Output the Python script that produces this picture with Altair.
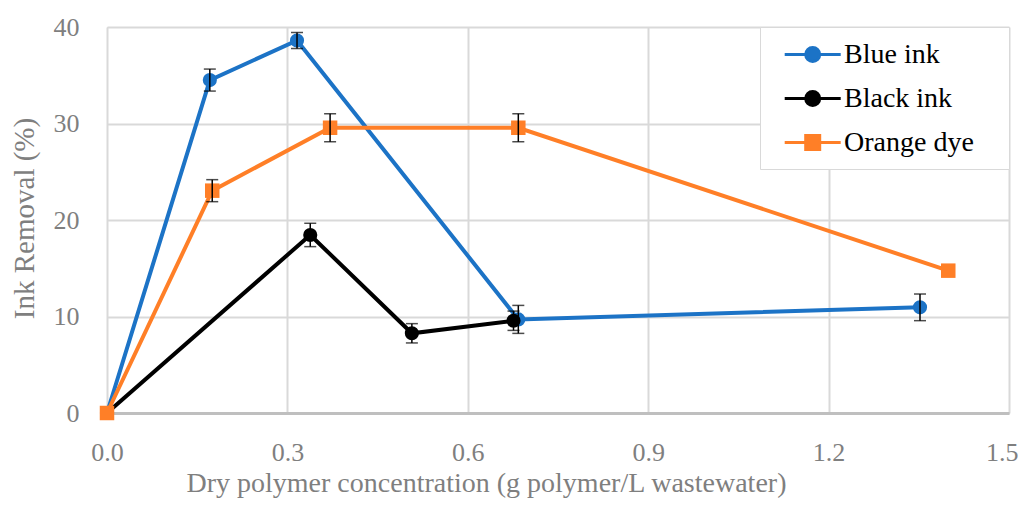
import altair as alt
import pandas as pd

series_names = ["Blue ink", "Black ink", "Orange dye"]
series_colors = ["#1c73c6", "#000000", "#ff7f27"]

blue_x = [0.0, 0.171, 0.316, 0.684, 1.352]
blue_y = [0.0, 34.5, 38.6, 9.7, 10.95]
blue_err = [0.0, 1.14, 0.83, 1.45, 1.38]

black_x = [0.0, 0.338, 0.507, 0.676]
black_y = [0.0, 18.45, 8.26, 9.56]
black_err = [0.0, 1.21, 1.0, 1.0]

orange_x = [0.0, 0.175, 0.371, 0.684, 1.399]
orange_y = [0.0, 23.04, 29.56, 29.56, 14.75]
orange_err = [0.0, 1.14, 1.45, 1.45, 0.0]

x_ticks = [0.0, 0.3, 0.6, 0.9, 1.2, 1.5]
y_ticks = [0, 10, 20, 30, 40]

x_title = "Dry polymer concentration (g polymer/L wastewater)"
y_title = "Ink Removal (%)"

rows = []
for name, xs, ys, es in [
    (series_names[0], blue_x, blue_y, blue_err),
    (series_names[1], black_x, black_y, black_err),
    (series_names[2], orange_x, orange_y, orange_err),
]:
    for xv, yv, ev in zip(xs, ys, es):
        rows.append({"series": name, "x": xv, "y": yv, "err": ev})
df = pd.DataFrame(rows)

FONT = "Liberation Serif"
GRAY = "#7f7f7f"

xs = alt.Scale(domain=[0, 1.5], nice=False, zero=False)
ys = alt.Scale(domain=[0, 40], nice=False)
color_scale = alt.Scale(domain=series_names, range=series_colors)

# legend glyphs: line with marker, plus an invisible move point that widens the legend box
path_c = "M-0.2,0L3.8,0M1.3,0A0.5,0.5,0,1,1,2.3,0A0.5,0.5,0,1,1,1.3,0ZM14.5,0"
path_s = "M-0.2,0L3.8,0M1.3,-0.5L2.3,-0.5L2.3,0.5L1.3,0.5ZM14.5,0"
shape_scale = alt.Scale(domain=series_names, range=[path_c, path_c, path_s])

last_tick = "datum.value >= 1.49"
x_axis = alt.Axis(
    values=x_ticks, format=".1f", labelFont=FONT, labelFontSize=26, labelColor=GRAY,
    labelPadding=26, ticks=False, tickSize=0, labelFlush=False, labelOverlap=False,
    labelAlign={"condition": {"test": last_tick, "value": "right"}, "value": "center"},
    labelOffset={"condition": {"test": last_tick, "value": 9}, "value": 0},
    domainColor="#bfbfbf", domainWidth=3, gridColor="#d9d9d9", gridWidth=2,
    title=x_title, titleFont=FONT, titleFontSize=28, titleColor=GRAY,
    titleFontWeight="normal", titleX=379, titleY=78, titleBaseline="alphabetic",
    titleAlign="center",
)
y_axis = alt.Axis(
    values=y_ticks, labelFont=FONT, labelFontSize=26, labelColor=GRAY,
    labelPadding=28, ticks=False, tickSize=0, domain=False, labelFlush=False,
    gridColor="#d9d9d9", gridWidth=2,
    title=y_title, titleFont=FONT, titleFontSize=29, titleColor=GRAY,
    titleFontWeight="normal", titleX=-74, titleY=191, titleBaseline="alphabetic",
    titleAlign="center", titleAngle=270,
)

leg = alt.Legend(
    title=None, orient="none", legendX=653, legendY=0, fillColor="white",
    strokeColor="#d9d9d9", padding=12, symbolSize=784, symbolStrokeWidth=3,
    labelFont=FONT, labelFontSize=28, labelColor="black", labelOffset=41,
    rowPadding=14, cornerRadius=0,
)

base = alt.Chart(df)
X = alt.X("x:Q", scale=xs, axis=x_axis)
Y = alt.Y("y:Q", scale=ys, axis=y_axis)
C = alt.Color("series:N", scale=color_scale, legend=leg)

legend_layer = base.transform_filter("false").mark_point(
    filled=True, strokeWidth=3, opacity=1
).encode(
    x=X, y=Y,
    color=C,
    stroke=alt.Stroke("series:N", scale=color_scale, legend=leg),
    shape=alt.Shape("series:N", scale=shape_scale, legend=leg),
)

lines = base.mark_line(strokeWidth=4).encode(
    x=X, y=Y, color=C, detail="series:N",
)

circles = base.transform_filter(
    alt.datum.series != "Orange dye"
).mark_point(filled=True, shape="circle", size=200, opacity=1).encode(
    x=X, y=Y, color=C
)

squares = base.transform_filter(
    alt.datum.series == "Orange dye"
).mark_point(filled=True, shape="square", size=210, opacity=1).encode(
    x=X, y=Y, color=C
)

err_base = base.transform_filter(alt.datum.err > 0).transform_calculate(
    lo="datum.y - datum.err", hi="datum.y + datum.err"
)
err_rule = err_base.mark_rule(color="black", strokeWidth=1.5).encode(
    x="x:Q", y="lo:Q", y2="hi:Q"
)
cap_lo = err_base.mark_tick(color="black", thickness=1.5, size=12, orient="horizontal").encode(
    x="x:Q", y="lo:Q"
)
cap_hi = err_base.mark_tick(color="black", thickness=1.5, size=12, orient="horizontal").encode(
    x="x:Q", y="hi:Q"
)

chart = alt.layer(
    legend_layer, lines, circles, squares, err_rule, cap_lo, cap_hi
).properties(
    width=902, height=386, autosize="none",
    padding={"left": 99, "top": 19, "right": 10, "bottom": 85},
).configure_view(stroke="#c4c4c4", strokeWidth=2).configure(background="white")

chart.save("out.html", embed_options={"renderer": "svg", "actions": False})
